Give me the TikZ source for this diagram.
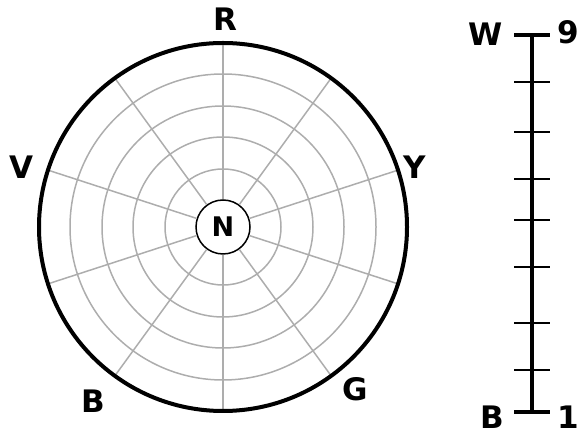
\documentclass[tikz,border=0pt]{standalone}
\usepackage{fontspec}
\setmainfont{DejaVu Sans}
\usepackage{tikz}

\tikzset{
  letter/.style={font=\fontsize{31}{32}\selectfont\bfseries, inner sep=0pt},
  gridline/.style={black!32, line width=1.5pt},
}

\begin{document}
\begin{tikzpicture}[x=1pt, y=1pt]
\useasboundingbox (0,0) rectangle (580,438);

% Colour wheel
\begin{scope}[shift={(223,211)}]
\coordinate (centre) at (0,0);
\foreach \r in {58,90,121,153}
  \draw[gridline] (centre) circle (\r);
\node[draw, circle, line width=1.5pt, minimum size=54pt, inner sep=0pt, fill=white,
      font=\fontsize{27}{28}\selectfont\bfseries] (N) at (centre) {N};
\foreach \a in {18,54,...,342}
  \draw[gridline] (N.\a) -- (\a:184);
\draw[line width=4pt] (centre) circle (184);
\end{scope}

\node[letter] (R) at (225,419) {R};
\node[letter] (Y) at (415,271) {Y};
\node[letter] (G) at (355,49) {G};
\node[letter] (B) at (93,37) {B};
\node[letter] (V) at (21,271) {V};

% Lightness scale
\begin{scope}
\coordinate (top) at (532,403);
\coordinate (bot) at (532,26);
\foreach \y in {356,306,259,218,171,115,68}
  \draw[line width=2pt] (514,\y) -- (550,\y);
\draw[line width=4pt] (514,403) -- (550,403);
\draw[line width=4pt] (514,26) -- (550,26);
\draw[line width=4pt] (top) -- (bot);
\node[letter] (W) at (486,404) {W};
\node[letter] (nine) at (568,406) {9};
\node[letter] (Bk) at (492,21) {B};
\node[letter] (one) at (568,21) {1};
\end{scope}
\end{tikzpicture}
\end{document}
